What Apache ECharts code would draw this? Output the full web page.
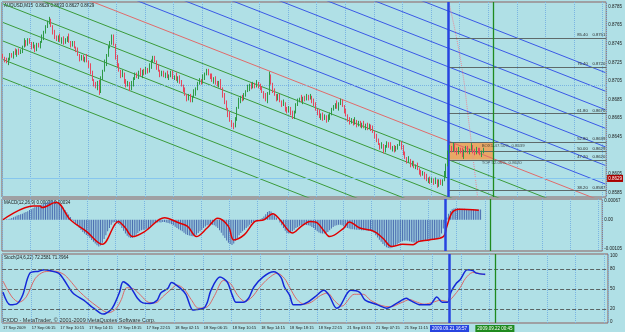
<!DOCTYPE html>
<html>
<head>
<meta charset="utf-8">
<script src="https://cdn.jsdelivr.net/npm/echarts@6/dist/echarts.min.js"></script>
<style>
  html, body { margin: 0; padding: 0; background: #b0e0e6; }
  #chart { width: 625px; height: 332px; }
</style>
</head>
<body>
<div id="chart"></div>
<script>
// AUDUSD M15, prices in pips (price * 10000)
const openPips = [8732,8730,8727,8725,8729,8733,8731,8736,8734,8738,
  8735,8737,8742,8748,8745,8749,8746,8741,8743,8739,
  8744,8742,8747,8752,8758,8763,8768,8771,8764,8758,
  8752,8749,8753,8748,8751,8746,8749,8752,8747,8744,
  8746,8741,8738,8733,8729,8731,8727,8730,8726,8722,
  8714,8706,8701,8698,8704,8693,8708,8716,8724,8733,
  8741,8746,8752,8744,8731,8722,8716,8710,8713,8705,
  8700,8703,8696,8702,8708,8712,8709,8715,8711,8716,
  8713,8718,8715,8721,8727,8730,8726,8719,8716,8712,
  8714,8710,8713,8709,8711,8714,8708,8710,8706,8709,
  8704,8700,8695,8690,8686,8689,8684,8688,8692,8697,
  8702,8706,8703,8709,8713,8716,8712,8709,8705,8708,
  8703,8700,8704,8697,8690,8682,8675,8668,8662,8658,
  8656,8664,8676,8684,8688,8685,8690,8694,8697,8701,
  8698,8702,8699,8703,8700,8697,8693,8688,8684,8692,
  8710,8702,8694,8690,8686,8689,8683,8679,8681,8675,
  8672,8676,8670,8667,8672,8679,8684,8686,8683,8687,
  8685,8689,8686,8688,8684,8680,8674,8670,8666,8669,
  8664,8667,8662,8666,8670,8674,8677,8680,8676,8681,
  8683,8678,8672,8668,8664,8660,8663,8659,8662,8658,
  8660,8656,8659,8655,8658,8654,8657,8653,8650,8646,
  8641,8637,8633,8636,8630,8634,8638,8635,8632,8634,
  8630,8633,8636,8639,8634,8627,8622,8618,8620,8615,
  8617,8612,8614,8610,8607,8604,8606,8601,8598,8600,
  8596,8599,8595,8598,8593,8597,8594,8598,8604,8615,
  8628,8634,8630,8636,8631,8627,8632,8629,8624,8630,
  8633,8628,8631,8635,8630,8627,8632,8629,8626,8629];
const closePips = [8730,8727,8725,8729,8733,8731,8736,8734,8738,8735,
  8737,8742,8748,8745,8749,8746,8741,8743,8739,8744,
  8742,8747,8752,8758,8763,8768,8771,8764,8758,8752,
  8749,8753,8748,8751,8746,8749,8752,8747,8744,8746,
  8741,8738,8733,8729,8731,8727,8730,8726,8722,8714,
  8706,8701,8698,8704,8693,8708,8716,8724,8733,8741,
  8746,8752,8744,8731,8722,8716,8710,8713,8705,8700,
  8703,8696,8702,8708,8712,8709,8715,8711,8716,8713,
  8718,8715,8721,8727,8730,8726,8719,8716,8712,8714,
  8710,8713,8709,8711,8714,8708,8710,8706,8709,8704,
  8700,8695,8690,8686,8689,8684,8688,8692,8697,8702,
  8706,8703,8709,8713,8716,8712,8709,8705,8708,8703,
  8700,8704,8697,8690,8682,8675,8668,8662,8658,8656,
  8664,8676,8684,8688,8685,8690,8694,8697,8701,8698,
  8702,8699,8703,8700,8697,8693,8688,8684,8692,8710,
  8702,8694,8690,8686,8689,8683,8679,8681,8675,8672,
  8676,8670,8667,8672,8679,8684,8686,8683,8687,8685,
  8689,8686,8688,8684,8680,8674,8670,8666,8669,8664,
  8667,8662,8666,8670,8674,8677,8680,8676,8681,8683,
  8678,8672,8668,8664,8660,8663,8659,8662,8658,8660,
  8656,8659,8655,8658,8654,8657,8653,8650,8646,8641,
  8637,8633,8636,8630,8634,8638,8635,8632,8634,8630,
  8633,8636,8639,8634,8627,8622,8618,8620,8615,8617,
  8612,8614,8610,8607,8604,8606,8601,8598,8600,8596,
  8599,8595,8598,8593,8597,8594,8598,8604,8615,8628,
  8634,8630,8636,8631,8627,8632,8629,8624,8630,8633,
  8628,8631,8635,8630,8627,8632,8629,8626,8629,8629];
const highPips = [8734,8731,8730,8730,8735,8735,8737,8740,8739,8740,
  8739,8743,8751,8749,8751,8751,8747,8747,8744,8746,
  8746,8748,8755,8759,8765,8770,8774,8772,8765,8760,
  8754,8754,8756,8752,8753,8751,8753,8756,8748,8748,
  8748,8742,8741,8734,8733,8733,8731,8734,8727,8724,
  8716,8707,8704,8705,8706,8710,8717,8728,8734,8743,
  8748,8755,8755,8745,8733,8724,8717,8717,8714,8707,
  8705,8704,8705,8709,8714,8714,8716,8719,8717,8718,
  8720,8719,8724,8728,8732,8732,8727,8723,8717,8716,
  8716,8714,8716,8712,8716,8716,8711,8714,8710,8711,
  8706,8701,8698,8691,8691,8691,8689,8696,8698,8704,
  8708,8707,8712,8714,8718,8718,8713,8713,8709,8710,
  8705,8705,8707,8698,8692,8684,8676,8672,8663,8660,
  8666,8677,8687,8689,8690,8692,8695,8701,8702,8703,
  8704,8703,8706,8704,8702,8699,8694,8692,8693,8715,
  8712,8703,8697,8691,8691,8691,8684,8685,8682,8677,
  8678,8677,8673,8673,8681,8686,8687,8690,8688,8689,
  8691,8690,8691,8689,8686,8682,8675,8674,8670,8671,
  8669,8668,8669,8671,8676,8679,8681,8684,8682,8686,
  8685,8679,8675,8669,8666,8665,8664,8666,8663,8662,
  8662,8660,8662,8659,8660,8659,8658,8657,8651,8648,
  8643,8638,8639,8637,8636,8640,8639,8639,8635,8636,
  8635,8637,8641,8640,8636,8629,8623,8624,8621,8619,
  8619,8615,8617,8611,8609,8608,8607,8605,8601,8602,
  8601,8600,8601,8599,8599,8599,8599,8608,8616,8630,
  8636,8635,8639,8637,8633,8634,8633,8633,8631,8635,
  8635,8632,8638,8636,8632,8634,8633,8633,8630,8633];
const lowPips = [8729,8725,8724,8722,8727,8730,8729,8733,8731,8733,
  8734,8735,8741,8742,8743,8745,8739,8740,8736,8737,
  8741,8740,8746,8749,8756,8762,8766,8763,8755,8750,
  8748,8747,8747,8745,8744,8745,8747,8746,8741,8742,
  8740,8736,8732,8726,8727,8726,8725,8725,8719,8712,
  8705,8699,8697,8695,8690,8692,8706,8715,8721,8731,
  8740,8744,8743,8728,8720,8715,8708,8709,8702,8698,
  8699,8694,8695,8699,8706,8708,8707,8710,8708,8711,
  8712,8713,8714,8718,8725,8725,8717,8715,8709,8710,
  8709,8708,8708,8706,8709,8707,8706,8705,8703,8702,
  8699,8693,8689,8683,8684,8682,8682,8687,8689,8695,
  8701,8701,8702,8706,8711,8711,8707,8704,8702,8701,
  8699,8698,8696,8687,8680,8674,8666,8661,8655,8653,
  8655,8662,8675,8681,8683,8684,8688,8693,8694,8696,
  8697,8697,8698,8697,8695,8692,8686,8683,8681,8690,
  8701,8692,8689,8683,8684,8682,8677,8678,8672,8670,
  8671,8668,8664,8664,8670,8678,8682,8682,8680,8683,
  8684,8684,8685,8681,8678,8673,8668,8665,8663,8662,
  8663,8660,8661,8663,8668,8673,8675,8675,8673,8679,
  8677,8670,8667,8661,8658,8659,8657,8658,8655,8656,
  8655,8654,8654,8652,8652,8653,8651,8649,8643,8639,
  8636,8631,8632,8627,8628,8633,8633,8631,8629,8628,
  8629,8631,8635,8631,8625,8621,8616,8617,8612,8613,
  8611,8610,8609,8604,8602,8603,8599,8597,8595,8594,
  8595,8593,8594,8590,8591,8593,8592,8597,8601,8613,
  8627,8628,8629,8628,8625,8626,8627,8623,8621,8628,
  8627,8626,8630,8627,8625,8626,8627,8625,8623,8627];

// MACD main (histogram), in units of 0.00001
const macdMain = [0,1,2,2,4,6,9,12,15,17,
  20,22,25,28,31,35,38,42,45,47,
  49,52,55,58,61,64,66,68,69,69,
  66,62,57,50,43,35,27,19,10,2,
  -6,-14,-22,-30,-37,-44,-50,-55,-60,-66,
  -73,-80,-86,-92,-97,-93,-83,-70,-56,-42,
  -30,-18,-10,-8,-12,-15,-20,-30,-40,-50,
  -58,-63,-66,-65,-60,-54,-48,-42,-38,-36,
  -35,-33,-30,-24,-18,-14,-12,-10,-9,-10,
  -8,-8,-10,-12,-14,-16,-20,-25,-30,-34,
  -38,-42,-47,-52,-55,-57,-59,-60,-58,-54,
  -48,-42,-36,-30,-24,-20,-18,-17,-18,-20,
  -24,-30,-38,-47,-57,-66,-75,-83,-88,-91,
  -86,-76,-66,-56,-48,-42,-36,-30,-24,-18,
  -12,-8,-4,-2,0,2,6,12,20,28,
  32,30,24,16,8,0,-10,-20,-30,-40,
  -48,-50,-47,-42,-36,-30,-26,-22,-20,-18,
  -18,-19,-20,-22,-26,-30,-36,-42,-46,-49,
  -50,-50,-48,-44,-38,-32,-26,-22,-20,-18,
  -18,-20,-24,-28,-30,-32,-34,-34,-35,-36,
  -36,-37,-38,-38,-38,-39,-40,-40,-42,-48,
  -56,-64,-72,-80,-88,-94,-99,-102,-103,-100,
  -96,-92,-88,-84,-80,-78,-76,-75,-76,-78,
  -80,-82,-82,-81,-80,-78,-78,-77,-76,-75,
  -74,-73,-72,-71,-70,-68,-62,-50,-32,-12,
  8,22,32,38,41,42,42,41,40,40,
  40,39,39,38,38,38,37,37,37,37];
// MACD signal, [bar, value in 0.00001]
const macdSignal = [[0,0],[17,50],[21,50],[22,44],[30,63],[38,0],[47,-42],[56,-89],[65,-6],[69,-30],
  [73,-61],[80,-42],[91,7],[99,-11],[104,-24],[109,-61],[115,-30],[121,5],[127,-24],[130,-73],
  [136,-54],[142,-6],[147,0],[152,22],[156,0],[163,-48],[168,-24],[173,-6],[177,-11],[181,-42],
  [184,-61],[192,-30],[195,-8],[201,-30],[209,-42],[214,-67],[219,-97],[225,-89],[231,-90],[234,-79],
  [240,-73],[248,-61],[250,-24],[253,26],[257,38],[268,34]];

// Stochastic %K and %D, [bar, value]
const stochMain = [[0,45],[4,26],[8,28],[11,41],[15,74],[20,77],[23,79],[26,78],[31,74],[34,64],
  [39,44],[45,33],[50,22],[54,14],[56,12],[60,18],[62,26],[65,45],[67,61],[71,53],
  [75,36],[78,29],[82,28],[86,33],[88,44],[92,51],[94,60],[99,51],[102,42],[106,18],
  [108,19],[112,21],[114,30],[116,48],[121,68],[125,61],[128,40],[130,30],[134,30],[137,36],
  [140,53],[145,68],[151,76],[155,68],[157,53],[160,40],[162,26],[166,26],[170,30],[174,38],
  [179,48],[182,40],[186,21],[188,24],[194,48],[199,45],[202,33],[209,26],[214,21],[220,29],
  [225,36],[227,33],[233,26],[238,26],[242,38],[245,30],[248,30],[250,46],[253,59],[255,64],
  [259,79],[262,78],[264,74],[269,72.26]];
const stochSignal = [[0,62],[5,38],[9,30],[13,38],[18,66],[23,76],[29,77],[34,72],[37,64],[42,48],
  [48,33],[56,17],[59,14],[63,20],[66,34],[69,52],[73,50],[77,40],[81,30],[85,29],
  [89,38],[94,50],[97,56],[101,50],[105,34],[109,21],[114,23],[118,40],[123,63],[127,58],
  [131,40],[135,31],[139,38],[143,52],[148,66],[153,74],[157,66],[160,52],[164,34],[168,27],
  [172,30],[177,40],[181,44],[185,32],[189,24],[196,42],[201,42],[205,33],[211,25],[216,23],
  [222,29],[227,34],[230,31],[235,27],[240,30],[244,33],[248,31],[251,38],[255,52],[258,66],
  [262,75],[265,74],[269,71.3]];

const timeLabels = ['17 Sep 2009','17 Sep 06:15','17 Sep 10:15','17 Sep 14:15','17 Sep 18:15',
  '17 Sep 22:15','18 Sep 02:15','18 Sep 06:15','18 Sep 10:15','18 Sep 14:15','18 Sep 18:15',
  '18 Sep 22:15','21 Sep 03:15','21 Sep 07:15','21 Sep 11:15'];
const priceTicks = [0.8785,0.8765,0.8745,0.8725,0.8705,0.8685,0.8665,0.8645,0.8605,0.8585];
const macdTicks = [0.00067, 0, -0.00105];
const stochTicks = [100, 80, 50, 20, 0];
const stochLevels = [80, 50, 20];

// channel lines: price at bar 0 and at bar 337
const channelStart = [0.8968,0.8948,0.8928,0.8908,0.8888,0.8868,0.8848,0.8828,0.8808,0.8788,0.8768,0.8748,0.8728,0.8708];
const channelEnd = [0.8714,0.8694,0.8674,0.8654,0.8634,0.8614,0.8594,0.8574,0.8554,0.8534,0.8514,0.8494,0.8474,0.8454];
const channelKind = ['b','b','b','b','b','b','b','r','g','g','g','g','g','g'];

const fibLevels = ['85.40','76.40','61.80','52.80','50.00','47.20','38.20'];
const fibPrices = [0.8751,0.8720,0.8670,0.8639,0.8629,0.8620,0.8587];
const boxTop = 0.8639, boxBottom = 0.8620, bidPrice = 0.8629;
const blueLineBar = 249.1, greenLineBar = 274.4;
const arcPoints = [[249.4,0.8790],[256,0.8728],[260.5,0.8663],[265.5,0.8580]];

const N_SLOTS = 338;
const slots = Array.from({ length: N_SLOTS }, (_, i) => String(i));
const FONT = 'Liberation Sans, Arial, sans-serif';
const TXT = '#1a1a1a';

const candles = closePips.map((c, i) => [openPips[i] / 1e4, c / 1e4, lowPips[i] / 1e4, highPips[i] / 1e4]);

function catAxis(g) {
  return {
    type: 'category', gridIndex: g, data: slots, boundaryGap: true,
    axisLine: { show: false }, axisTick: { show: false },
    axisLabel: {
      show: g === 2,
      interval: (i) => i % 16 === 0 && i / 16 < timeLabels.length,
      formatter: (v, i) => timeLabels[i / 16] || '',
      align: 'left', fontSize: 4, color: TXT, margin: 3, fontFamily: FONT
    },
    splitLine: { show: true, interval: (i) => i % 16 === 0, lineStyle: { color: '#7ab4e2', type: 'dotted', width: 1 } }
  };
}
function barAxis(g) {
  return { type: 'value', gridIndex: g, min: -0.5, max: N_SLOTS - 0.5, show: false };
}
function priceAxis(g, min, max, ticks, fmt) {
  return {
    type: 'value', gridIndex: g, position: 'right', min, max,
    axisLine: { show: false }, axisTick: { show: false }, splitLine: { show: false },
    axisLabel: { customValues: ticks, formatter: fmt, fontSize: 4.5, color: TXT, margin: 2, fontFamily: FONT }
  };
}
function vLines(g, withLabels) {
  const lab = (txt, bg) => withLabels
    ? { show: true, position: 'start', formatter: txt, color: '#fff', backgroundColor: bg, fontSize: 4.5, padding: [1, 2], distance: 2, fontFamily: FONT }
    : { show: false };
  return {
    type: 'line', xAxisIndex: 2 * g + 1, yAxisIndex: g, data: [], symbol: 'none', z: 8,
    markLine: {
      silent: true, symbol: ['none', 'none'], animation: false,
      data: [
        { xAxis: blueLineBar, lineStyle: { color: '#2744e0', width: 2.5, type: 'solid' }, label: lab('2009.09.21 16:57', '#2744e0') },
        { xAxis: greenLineBar, lineStyle: { color: '#1f8a1f', width: 1.3, type: 'solid' }, label: lab('2009.09.22 00:45', '#1f8a1f') }
      ]
    }
  };
}

const channelColor = { b: '#3a58e6', r: '#e06a6a', g: '#3a9a3a' };
const channelSeries = channelStart.map((p, k) => ({
  type: 'line', xAxisIndex: 1, yAxisIndex: 0, symbol: 'none', z: 3, clip: true,
  data: [[0, p], [N_SLOTS - 1, channelEnd[k]]],
  lineStyle: { color: channelColor[channelKind[k]], width: 1 }
}));

const option = {
  animation: false,
  backgroundColor: '#b0e0e6',
  textStyle: { fontFamily: FONT },
  grid: [
    { left: 2, top: 2, width: 606, height: 195 },
    { left: 2, top: 199, width: 606, height: 52 },
    { left: 2, top: 254, width: 606, height: 69 }
  ].map(g => Object.assign({ show: true, borderColor: '#8e6060', borderWidth: 1, backgroundColor: 'transparent' }, g)),
  xAxis: [catAxis(0), barAxis(0), catAxis(1), barAxis(1), catAxis(2), barAxis(2)],
  yAxis: [
    priceAxis(0, 0.8580, 0.8790, priceTicks, v => v.toFixed(4)),
    priceAxis(1, -0.00113, 0.00075, macdTicks, v => (v === 0 ? '0.00' : v.toFixed(5))),
    priceAxis(2, -1.5, 103, stochTicks, v => String(v))
  ],
  graphic: [
    { type: 'text', left: 4, top: 3, style: { text: 'AUDUSD,M15  0.8629 0.8633 0.8627 0.8629', fill: TXT, fontSize: 4.5, fontFamily: FONT } },
    { type: 'text', left: 4, top: 200.5, style: { text: 'MACD(12,26,9) 0.00037 0.00034', fill: TXT, fontSize: 4.5, fontFamily: FONT } },
    { type: 'text', left: 4, top: 255.5, style: { text: 'Stoch(24,6,22) 72.2581 71.2964', fill: TXT, fontSize: 4.5, fontFamily: FONT } },
    { type: 'text', left: 3, top: 317, style: { text: 'FXDD - MetaTrader, \u00a9 2001-2009 MetaQuotes Software Corp.', fill: '#333', fontSize: 5.5, fontFamily: FONT } }
  ],
  series: [
    // main grid dotted horizontal lines
    {
      type: 'line', xAxisIndex: 1, yAxisIndex: 0, data: [], symbol: 'none', z: 1,
      markLine: { silent: true, symbol: ['none', 'none'], label: { show: false },
        lineStyle: { color: '#7ab4e2', type: 'dotted', width: 1 },
        data: priceTicks.map(v => ({ yAxis: v })) }
    },
    // orange box
    {
      type: 'line', xAxisIndex: 1, yAxisIndex: 0, data: [[blueLineBar, boxTop]], symbol: 'none', z: 2,
      lineStyle: { width: 0 },
      markArea: { silent: true, itemStyle: { color: '#e8a866', opacity: 1 },
        data: [[{ coord: [blueLineBar, boxTop] }, { coord: [greenLineBar, boxBottom] }]] }
    },
    ...channelSeries,
    // full-width horizontal lines with axis price boxes
    {
      type: 'line', xAxisIndex: 1, yAxisIndex: 0, data: [], symbol: 'none', z: 4,
      markLine: { silent: true, symbol: ['none', 'none'],
        data: [
          { yAxis: boxTop, lineStyle: { color: '#6a7272', width: 1, type: 'solid' },
            label: { show: true, position: 'end', formatter: '0.8639', backgroundColor: '#c68a52', color: TXT, fontSize: 4.5, padding: [1, 1], distance: 1 } },
          { yAxis: boxBottom, lineStyle: { color: '#6a7272', width: 1, type: 'solid' },
            label: { show: true, position: 'end', formatter: '0.8620', backgroundColor: '#c68a52', color: TXT, fontSize: 4.5, padding: [1, 1], distance: 1 } },
          { yAxis: bidPrice, lineStyle: { color: '#86c6ee', width: 1, type: 'solid' },
            label: { show: true, position: 'end', formatter: '0.8629', backgroundColor: '#a80000', color: '#fff', fontSize: 4.5, padding: [1, 1], distance: 1 } }
        ] }
    },
    // fibonacci levels
    {
      type: 'line', xAxisIndex: 1, yAxisIndex: 0, data: [], symbol: 'none', z: 4,
      markLine: { silent: true, symbol: ['none', 'none'],
        lineStyle: { color: '#5e6a6a', width: 1, type: 'solid' },
        label: { show: true, position: 'insideEndTop', color: '#2a2a2a', fontSize: 4.2, distance: 1, fontFamily: FONT },
        data: fibPrices.map((p, k) => [
          { coord: [blueLineBar, p], label: { formatter: fibLevels[k] + '    ' + p.toFixed(4) } },
          { coord: [N_SLOTS - 0.5, p] }
        ]) }
    },
    // arc
    {
      type: 'line', xAxisIndex: 1, yAxisIndex: 0, data: arcPoints, symbol: 'none', smooth: true, z: 4,
      lineStyle: { color: '#e8899a', width: 1, type: 'dotted' }
    },
    // box texts
    {
      type: 'scatter', xAxisIndex: 1, yAxisIndex: 0, symbolSize: 0, z: 9,
      data: [
        { value: [267.8, 0.86350], label: { formatter: 'BOX1-47.50%, 0.8639' } },
        { value: [267.8, 0.86168], label: { formatter: 'TOP 52.06%, 0.8620' } }
      ],
      label: { show: true, position: 'right', distance: 0, color: '#2a2a2a', fontSize: 4.3, fontFamily: FONT }
    },
    {
      type: 'candlestick', xAxisIndex: 0, yAxisIndex: 0, data: candles, barWidth: 1, z: 5,
      itemStyle: { color: '#2e9a46', color0: '#e4485e', borderColor: '#2e9a46', borderColor0: '#e4485e', borderWidth: 1 }
    },
    vLines(0, false),
    // MACD
    {
      type: 'bar', xAxisIndex: 2, yAxisIndex: 1, data: macdMain.map(v => v / 1e5), barWidth: 1,
      itemStyle: { color: '#4a6cb0' }, z: 3
    },
    {
      type: 'line', xAxisIndex: 3, yAxisIndex: 1, data: macdSignal.map(p => [p[0], p[1] / 1e5]),
      symbol: 'none', smooth: 0.35, lineStyle: { color: '#e00000', width: 1.5 }, z: 4
    },
    vLines(1, false),
    // Stochastic
    {
      type: 'line', xAxisIndex: 5, yAxisIndex: 2, data: [], symbol: 'none', z: 2,
      markLine: { silent: true, symbol: ['none', 'none'], label: { show: false },
        lineStyle: { color: '#5a6464', type: 'dashed', width: 1 },
        data: stochLevels.map(v => ({ yAxis: v })) }
    },
    {
      type: 'line', xAxisIndex: 5, yAxisIndex: 2, data: stochSignal, symbol: 'none', smooth: 0.3,
      lineStyle: { color: '#e05a5a', width: 0.9 }, z: 3
    },
    {
      type: 'line', xAxisIndex: 5, yAxisIndex: 2, data: stochMain, symbol: 'none', smooth: 0.3,
      lineStyle: { color: '#1428d8', width: 1.5 }, z: 4
    },
    vLines(2, true)
  ]
};

const chart = echarts.init(document.getElementById('chart'));
chart.setOption(option);
</script>
</body>
</html>
